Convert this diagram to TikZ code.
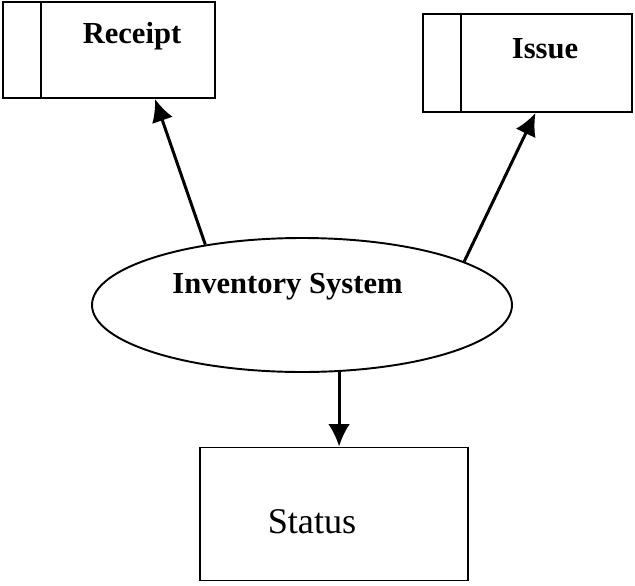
\documentclass[tikz,border=0pt]{standalone}
\usepackage{fontspec}
\setmainfont{Liberation Serif}
\usetikzlibrary{shapes.geometric}
\usetikzlibrary{arrows.meta}
\tikzset{>={Latex[length=6.4pt,width=6.2pt]}}
\tikzstyle{store}=[draw,line width=0.55,inner sep=0]
\tikzstyle{process}=[ellipse,draw,line width=0.55,inner sep=0,minimum width=42mm,minimum height=13.4mm]
\tikzstyle{boldtext}=[font=\fontsize{8.7}{10}\selectfont\bfseries,inner sep=0]
\tikzstyle{flow}=[->,line width=0.85]

\begin{document}
\begin{tikzpicture}[x=1mm,y=-1mm]
  \useasboundingbox (0,0) rectangle (63.5,58.6);
  
  \def\wsep{3.9} % width of the id strip on the stores
  
  % STORES
  \node[store,minimum width=21.2mm,minimum height=9.6mm] (receipt) at (10.9,5.0) {};
  \node[store,minimum width=20.9mm,minimum height=9.8mm] (issue) at (52.75,6.3) {};
  \foreach \s in {receipt,issue}{
    \draw[line width=0.55] ([xshift=\wsep mm]\s.north west) -- ([xshift=\wsep mm]\s.south west);
  }
  \node[boldtext,anchor=base] (receipttext) at (13.2,4.3) {Receipt};
  \node[boldtext,anchor=base] (issuetext) at (54.5,5.8) {Issue};
  
  % PROCESS
  \node[process] (inv) at (30.2,30.5) {};
  \node[boldtext,anchor=base] (invtext) at (28.75,29.3) {Inventory System};
  
  % STATUS
  \node[store,minimum width=26.8mm,minimum height=13.3mm] (status) at (33.4,51.4) {};
  \node[font=\fontsize{10.3}{12}\selectfont,inner sep=0,anchor=base] (statustext) at (31.2,53.3) {Status};
  
  % FLOWS
  \draw[flow] (inv.148) -- ([xshift=4.6mm]receipt.south);
  \draw[flow] (inv.15) -- ([xshift=0.8mm]issue.south);
  \draw[flow] (inv.-61) -- (inv.-61 |- status.north);
  
\end{tikzpicture}
\end{document}
